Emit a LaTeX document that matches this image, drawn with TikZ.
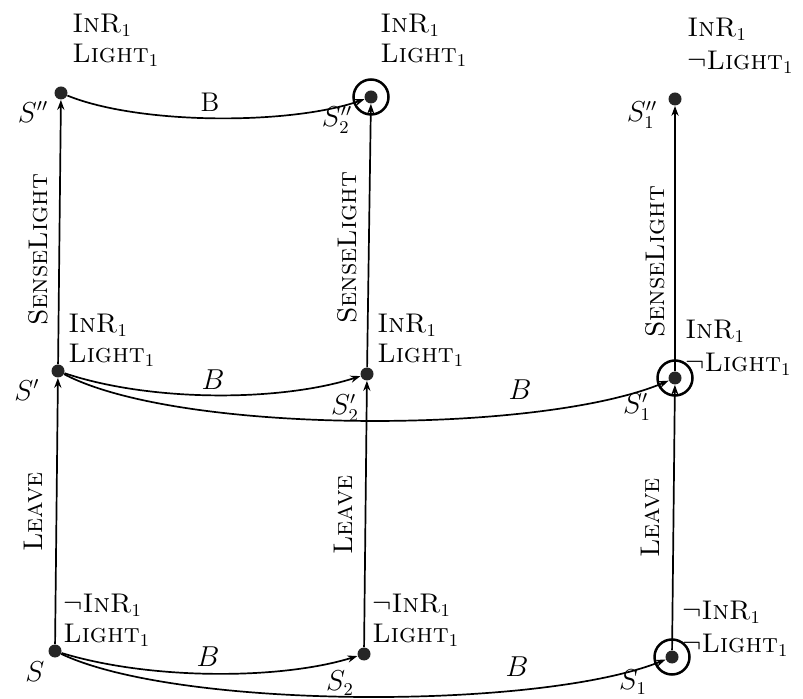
\documentclass[tikz,border=0pt]{standalone}
\usetikzlibrary{arrows.meta}
\begin{document}
\begin{tikzpicture}[x=0.5pt,y=-0.5pt,
  dot/.style={circle,fill=black!85,inner sep=0pt,minimum size=6.5pt},
  ring/.style={circle,draw,line width=1.25pt,inner sep=0pt,minimum size=17.5pt},
  arr/.style={line width=0.85pt,-{Stealth[length=5pt,width=3.6pt]}},
  txt/.style={font=\fontsize{13.5}{15}\selectfont, inner sep=0pt},
  props/.style={txt,anchor=west,align=left},
  wideprops/.style={props,font=\fontsize{13.5}{16.5}\selectfont},
  vlab/.style={txt,rotate=90},
]
\useasboundingbox (0,0) rectangle (803,699);

% states
\node[dot] (s)   at (55,651) {};
\node[dot] (s2)  at (364,654) {};
\node[dot] (s1)  at (672,657) {};
\node[dot] (sp)  at (58,371) {};
\node[dot] (s2p) at (367,374) {};
\node[dot] (s1p) at (675,378) {};
\node[dot] (spp) at (61,93) {};
\node[dot] (s2pp) at (371,97) {};
\node[dot] (s1pp) at (675,99) {};

% goal rings
\node[ring] (r1)  at (s1) {};
\node[ring] (r1p) at (s1p) {};
\node[ring] (r2pp) at (s2pp) {};

% vertical actions
\draw[arr] (s) -- (sp);
\draw[arr] (sp) -- (spp);
\draw[arr] (s2) -- (s2p);
\draw[arr] (s2p) -- (s2pp);
\draw[arr] (s1) -- (s1p);
\draw[arr] (s1p) -- (s1pp);

% B relations
\draw[arr] (spp) .. controls (140,125) and (290,125) .. (s2pp);
\draw[arr] (sp) .. controls (150,402) and (280,402) .. (s2p);
\draw[arr] (sp) .. controls (180,435) and (540,435) .. (s1p);
\draw[arr] (s) .. controls (150,680) and (280,680) .. (s2);
\draw[arr] (s) .. controls (180,710) and (540,710) .. (s1);

% B labels
\node[txt] (b1) at (210,102) {B};
\node[txt] (b2) at (213,380) {$B$};
\node[txt] (b3) at (520,390) {$B$};
\node[txt] (b4) at (208,657) {$B$};
\node[txt] (b5) at (517,667) {$B$};

% action labels
\node[vlab] (l1) at (38,250) {\textsc{SenseLight}};
\node[vlab] (l2) at (347,248) {\textsc{SenseLight}};
\node[vlab] (l3) at (655,262) {\textsc{SenseLight}};
\node[vlab] (l4) at (33,512) {\textsc{Leave}};
\node[vlab] (l5) at (343,515) {\textsc{Leave}};
\node[vlab] (l6) at (650,518) {\textsc{Leave}};

% state names
\node[txt] (n1) at (35,672) {$S$};
\node[txt] (n2) at (340,683) {$S_2$};
\node[txt] (n3) at (633,682) {$S_1$};
\node[txt] (n4) at (27,390) {$S'$};
\node[txt] (n5) at (345,408) {$S'_2$};
\node[txt] (n6) at (637,407) {$S'_1$};
\node[txt] (n7) at (33,112) {$S''$};
\node[txt] (n8) at (337,120) {$S''_2$};
\node[txt] (n9) at (642,115) {$S''_1$};

% properties
\node[props] (p1) at (72,40) {\textsc{InR}$_1$\\\textsc{Light}$_1$};
\node[props] (p2) at (380,40) {\textsc{InR}$_1$\\\textsc{Light}$_1$};
\node[wideprops] (p3) at (687,46) {\textsc{InR}$_1$\\$\neg$\textsc{Light}$_1$};
\node[props] (p4) at (68,340) {\textsc{InR}$_1$\\\textsc{Light}$_1$};
\node[props] (p5) at (377,340) {\textsc{InR}$_1$\\\textsc{Light}$_1$};
\node[wideprops] (p6) at (685,348) {\textsc{InR}$_1$\\$\neg$\textsc{Light}$_1$};
\node[props] (p7) at (63,620) {$\neg$\textsc{InR}$_1$\\\textsc{Light}$_1$};
\node[props] (p8) at (372,620) {$\neg$\textsc{InR}$_1$\\\textsc{Light}$_1$};
\node[wideprops] (p9) at (682,629) {$\neg$\textsc{InR}$_1$\\$\neg$\textsc{Light}$_1$};
\end{tikzpicture}
\end{document}
